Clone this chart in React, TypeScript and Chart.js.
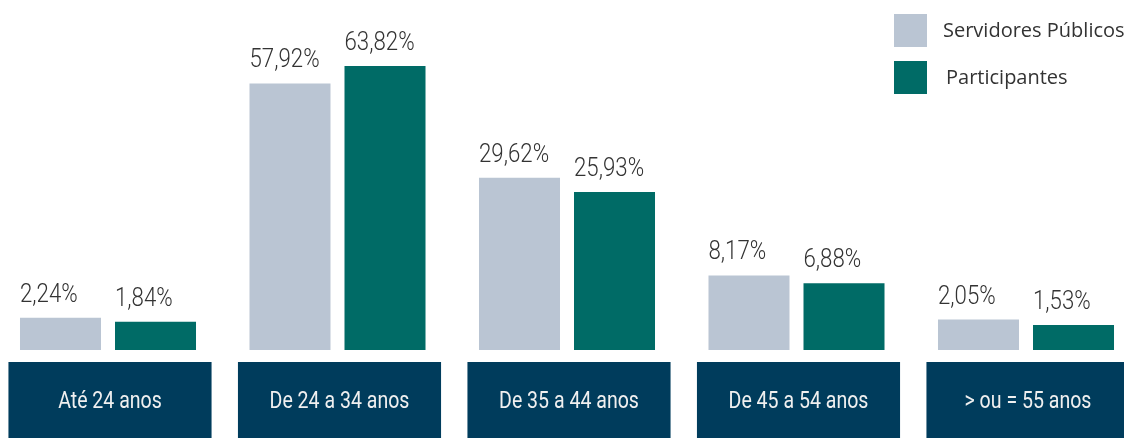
import { useEffect, useRef } from 'react';
import { Chart, registerables, LinearScale } from 'chart.js';

Chart.register(...registerables);

// ---------- data ----------
const categories = ['Até 24 anos', 'De 24 a 34 anos', 'De 35 a 44 anos', 'De 45 a 54 anos', '> ou = 55 anos'];
const seriesNames = ['Servidores Públicos', 'Participantes'];
const servidores = [2.24, 57.92, 29.62, 8.17, 2.05];
const participantes = [1.84, 63.82, 25.93, 6.88, 1.53];

// ---------- styles ----------
const GRAY = '#bac5d3';
const TEAL = '#006b66';
const NAVY = '#003c5c';
const TEXT = '#333333';
const OFFX = 40; // canvas starts 40px left of the page edge
const COND = 'Roboto, "Liberation Sans", sans-serif';
const LEGEND_FONT = '"Open Sans", "Noto Sans", sans-serif';

// power-law value axis (the reference exaggerates small bars)
const EXP = 0.65;
class PowerScale extends LinearScale {
  static id = 'power';
  static defaults = LinearScale.defaults;
  getPixelForValue(value: any) {
    if (value === null || value === undefined || isNaN(value)) return NaN;
    const range = this.max - this.min;
    const d = Math.pow(Math.max(0, (value - this.min) / range), EXP);
    return this.getPixelForDecimal(d);
  }
  getValueForPixel(pixel: number) {
    const d = Math.max(0, this.getDecimalForPixel(pixel));
    return this.min + Math.pow(d, 1 / EXP) * (this.max - this.min);
  }
}
Chart.register(PowerScale as any);

const fmt = (v: number) => v.toFixed(2).replace('.', ',') + '%';

// condensed text: real text drawn with a horizontal squeeze
function condText(ctx: CanvasRenderingContext2D, text: string, x: number, y: number, sx: number, align: CanvasTextAlign) {
  ctx.save();
  ctx.translate(x, y);
  ctx.scale(sx, 1);
  ctx.textAlign = align;
  ctx.textBaseline = 'alphabetic';
  ctx.fillText(text, 0, 0);
  ctx.restore();
}

const decorPlugin = {
  id: 'decor',
  beforeDatasetsDraw(chart: any) {
    const { ctx, chartArea } = chart;
    const x = chart.scales.x;
    const labels = chart.data.labels as string[];
    const step = x.width / labels.length;
    const bw = step * 0.885;
    const top = chartArea.bottom + 12;
    ctx.save();
    labels.forEach((lab, i) => {
      const cx = x.getPixelForValue(i) + 2;
      ctx.fillStyle = NAVY;
      ctx.fillRect(cx - bw / 2, top, bw, chart.height - top);
      ctx.fillStyle = '#f0f0f0';
      ctx.font = `400 23px ${COND}`;
      condText(ctx, lab, cx, chartArea.bottom + 58, 0.85, 'center');
    });
    ctx.restore();
  },
  afterDatasetsDraw(chart: any) {
    const { ctx } = chart;
    ctx.save();
    ctx.font = `300 25px ${COND}`;
    ctx.fillStyle = TEXT;
    chart.data.datasets.forEach((ds: any, di: number) => {
      const meta = chart.getDatasetMeta(di);
      meta.data.forEach((bar: any, i: number) => {
        const left = bar.x - bar.width / 2;
        condText(ctx, fmt(ds.data[i]), left, bar.y - 16, 0.89, 'left');
      });
    });
    ctx.restore();
  },
  afterDraw(chart: any) {
    const { ctx } = chart;
    ctx.save();
    ctx.font = `20px ${LEGEND_FONT}`;
    ctx.textAlign = 'left';
    ctx.textBaseline = 'alphabetic';
    chart.data.datasets.forEach((ds: any, di: number) => {
      const y = 14 + di * 47;
      ctx.fillStyle = ds.backgroundColor;
      ctx.fillRect(894 + OFFX, y, 33, 33);
      ctx.fillStyle = TEXT;
      ctx.fillText(ds.label, 943 + OFFX + di * 3, y + 23);
    });
    ctx.restore();
  },
};

export default function App() {
  const ref = useRef<HTMLCanvasElement | null>(null);
  useEffect(() => {
    if (!ref.current) return;
    const chart = new Chart(ref.current, {
      type: 'bar',
      data: {
        labels: categories,
        datasets: [
          { label: seriesNames[0], data: servidores, backgroundColor: GRAY, borderWidth: 0 },
          { label: seriesNames[1], data: participantes, backgroundColor: TEAL, borderWidth: 0 },
        ],
      },
      options: {
        animation: false,
        responsive: true,
        maintainAspectRatio: false,
        events: [],
        layout: { padding: { left: 33.25, right: 19.25, top: 21.2, bottom: 88 } },
        datasets: { bar: { categoryPercentage: 0.828, barPercentage: 0.8526 } } as any,
        scales: {
          x: { type: 'category', display: false, grid: { display: false } },
          y: { type: 'power' as any, display: false, min: 0, max: 80 },
        },
        plugins: {
          legend: { display: false },
          tooltip: { enabled: false },
        },
      },
      plugins: [decorPlugin],
    });
    return () => chart.destroy();
  }, []);

  return (
    <div style={{ position: 'fixed', left: 0, top: 0, width: 1124, height: 438, overflow: 'hidden', background: '#fff' }}>
      <div style={{ position: 'absolute', left: -OFFX, top: 0, width: 1200, height: 438 }}>
        <canvas ref={ref} />
      </div>
    </div>
  );
}
